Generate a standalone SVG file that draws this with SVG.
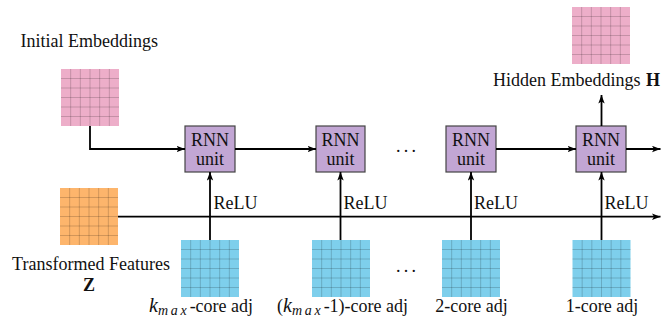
<svg xmlns="http://www.w3.org/2000/svg" xmlns:xlink="http://www.w3.org/1999/xlink" width="661" height="322" viewBox="0 0 661 322">
<style>
text{font-family:"Liberation Serif","Times New Roman",serif;font-size:18px;fill:#111}
.it{font-style:italic}
.k{font-style:italic;font-size:20px}
.sub{font-style:italic;font-size:14px;letter-spacing:2.8px}
.b{font-weight:bold}
.mid{text-anchor:middle}
.rnn{fill:#C2A6D4;stroke:#444;stroke-width:1.2}
.con{fill:none;stroke:#000;stroke-width:1.8}
.pink{fill:#EDAEC9}
.orange{fill:#FDB56C}
.blue{fill:#7ECFEC}
</style>
<defs>
<marker id="ah" markerWidth="9" markerHeight="7" refX="8.5" refY="3.5" orient="auto" markerUnits="userSpaceOnUse">
<path d="M0,0.3 L8.5,3.5 L0,6.7 L2,3.5 Z" fill="#000"/>
</marker>
<g id="mat">
<rect x="0" y="0" width="58" height="57"/>
<path d="M9.67,0V57M19.33,0V57M29,0V57M38.67,0V57M48.33,0V57M0,9.5H58M0,19H58M0,28.5H58M0,38H58M0,47.5H58" fill="none" stroke="#000" stroke-opacity="0.22" stroke-width="0.8"/>
</g>
</defs>

<g id="initial-embeddings">
<use xlink:href="#mat" class="pink" x="61" y="69"/>
<text x="20.5" y="46.5">Initial Embeddings</text>
</g>

<g id="hidden-embeddings">
<use xlink:href="#mat" class="pink" x="572" y="7"/>
<text x="493" y="85.7">Hidden Embeddings <tspan class="b" x="646">H</tspan></text>
</g>

<g id="transformed-features">
<use xlink:href="#mat" class="orange" x="60" y="188"/>
<text class="mid" x="91" y="269.5">Transformed Features</text>
<text class="mid b" x="89" y="290.5">Z</text>
</g>

<g id="rnn1"><rect class="rnn" x="185" y="126" width="50" height="46"/><text class="mid" x="210" y="146">RNN</text><text class="mid" x="210" y="165">unit</text></g>
<g id="rnn2"><rect class="rnn" x="316" y="126" width="49" height="46"/><text class="mid" x="340.5" y="146">RNN</text><text class="mid" x="340.5" y="165">unit</text></g>
<g id="rnn3"><rect class="rnn" x="446" y="126" width="50" height="46"/><text class="mid" x="471" y="146">RNN</text><text class="mid" x="471" y="165">unit</text></g>
<g id="rnn4"><rect class="rnn" x="576" y="126" width="50" height="46"/><text class="mid" x="601" y="146">RNN</text><text class="mid" x="601" y="165">unit</text></g>

<g id="adj1">
<use xlink:href="#mat" class="blue" x="181" y="240"/>
<text x="149" y="311.5"><tspan class="k">k</tspan><tspan class="sub" dy="3">max</tspan><tspan dy="-3">-core adj</tspan></text>
</g>
<g id="adj2">
<use xlink:href="#mat" class="blue" x="312" y="240"/>
<text x="277" y="311.5">(<tspan class="k">k</tspan><tspan class="sub" dy="3">max</tspan><tspan dy="-3">-1)-core adj</tspan></text>
</g>
<g id="adj3">
<use xlink:href="#mat" class="blue" x="442" y="240"/>
<text class="mid" x="471.5" y="311.5">2-core adj</text>
</g>
<g id="adj4">
<use xlink:href="#mat" class="blue" x="572.5" y="240"/>
<text class="mid" x="602" y="311.5">1-core adj</text>
</g>

<g id="ellipses">
<text x="396" y="152" letter-spacing="3.2">...</text>
<text x="396" y="272" letter-spacing="3.2">...</text>
</g>

<g id="connectors">
<path class="con" d="M90,126V149H185" marker-end="url(#ah)"/>
<path class="con" d="M235,149H316" marker-end="url(#ah)"/>
<path class="con" d="M496,149H576" marker-end="url(#ah)"/>
<path class="con" d="M626,149H660.5" marker-end="url(#ah)"/>
<path class="con" d="M601.5,126V95" marker-end="url(#ah)"/>
<path class="con" d="M118,216.7H660.5" marker-end="url(#ah)"/>
<path class="con" d="M210,240V172" marker-end="url(#ah)"/>
<path class="con" d="M340.5,240V172" marker-end="url(#ah)"/>
<path class="con" d="M471,240V172" marker-end="url(#ah)"/>
<path class="con" d="M601.5,240V172" marker-end="url(#ah)"/>
<text x="213.5" y="209.3">ReLU</text>
<text x="343.5" y="209.3">ReLU</text>
<text x="474" y="209.3">ReLU</text>
<text x="604.5" y="209.3">ReLU</text>
</g>
</svg>
